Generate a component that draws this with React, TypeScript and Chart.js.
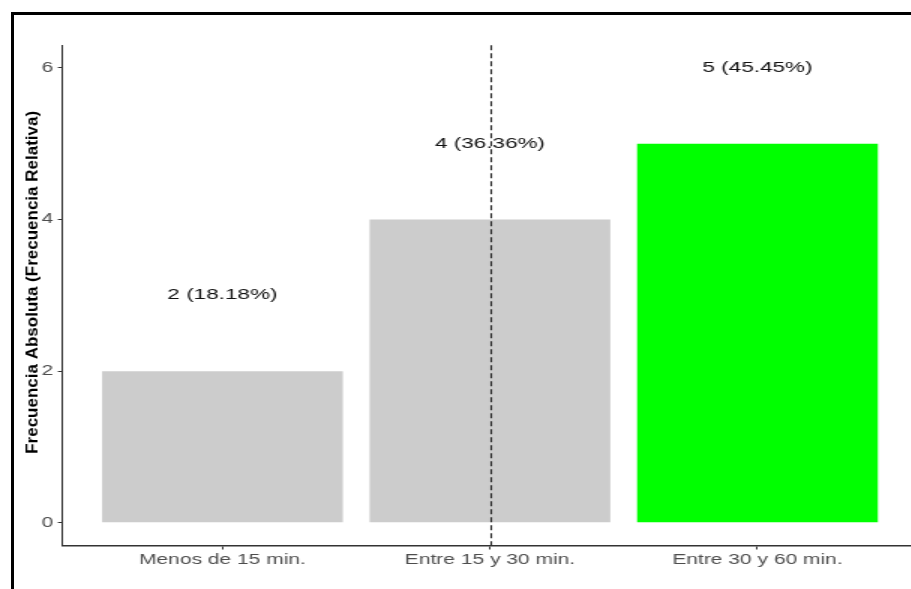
import React, { useEffect, useRef } from "react";
import { Chart, registerables } from "chart.js";

Chart.register(...registerables);

// ---- data ----
const categories = ["Menos de 15 min.", "Entre 15 y 30 min.", "Entre 30 y 60 min."];
const frequencies = [2, 4, 5];
const relativePercents = ["18.18%", "36.36%", "45.45%"];
const barColors = ["#cccccc", "#cccccc", "#00ff00"];
const yTicks = [0, 2, 4, 6];
const yAxisTitle = "Frecuencia Absoluta (Frecuencia Relativa)";
const dashedAtCategory = 2;

// ---- layout / style ----
const SX = 1.5; // the reference's horizontal texts are stretched horizontally
const FONT = "'Liberation Sans', Arial, Helvetica, sans-serif";

export default function App() {
  const canvasRef = useRef<HTMLCanvasElement | null>(null);

  useEffect(() => {
    const canvas = canvasRef.current;
    if (!canvas) return;

    const labelPlugin = {
      id: "barLabels",
      afterDatasetsDraw(chart: any) {
        const ctx = chart.ctx;
        const xs = chart.scales.x;
        const ys = chart.scales.y;
        const area = chart.chartArea;
        ctx.save();
        ctx.font = `15px ${FONT}`;
        ctx.fillStyle = "#111111";
        ctx.textAlign = "center";
        ctx.textBaseline = "middle";
        frequencies.forEach((v, i) => {
          ctx.fillText(
            `${v} (${relativePercents[i]})`,
            xs.getPixelForValue(i + 1),
            ys.getPixelForValue(v + 1)
          );
        });
        // dashed reference line
        const px = Math.round(xs.getPixelForValue(dashedAtCategory)) + 0.5;
        ctx.strokeStyle = "#2a2a2a";
        ctx.lineWidth = 1.1;
        ctx.setLineDash([5, 3]);
        ctx.beginPath();
        ctx.moveTo(px, area.top);
        ctx.lineTo(px, area.bottom);
        ctx.stroke();
        ctx.restore();

        // y-axis title, drawn without the horizontal stretch
        ctx.save();
        ctx.translate(22.3, (area.top + area.bottom) / 2 - 13);
        ctx.scale(1 / SX, 1);
        ctx.rotate(-Math.PI / 2);
        ctx.font = `bold 17px ${FONT}`;
        ctx.fillStyle = "#000000";
        ctx.textAlign = "center";
        ctx.textBaseline = "middle";
        ctx.fillText(yAxisTitle, 0, 0);
        ctx.restore();
      },
    };

    const chart = new Chart(canvas, {
      type: "bar",
      data: {
        datasets: [
          {
            data: frequencies.map((v, i) => ({ x: i + 1, y: v })),
            backgroundColor: barColors,
            borderWidth: 0,
            barPercentage: 0.9,
            categoryPercentage: 1,
          },
        ],
      },
      options: {
        animation: false,
        responsive: false,
        devicePixelRatio: 1,
        layout: { padding: { left: 13, top: 45.2, right: 0, bottom: 0 } },
        plugins: { legend: { display: false }, tooltip: { enabled: false } },
        scales: {
          x: {
            type: "linear",
            min: 0.4,
            max: 3.6,
            offset: false,
            afterBuildTicks: (a: any) => {
              a.ticks = categories.map((_, i) => ({ value: i + 1 }));
            },
            afterFit: (s: any) => {
              s.height = 43.5;
            },
            grid: {
              offset: false,
              drawOnChartArea: false,
              drawTicks: true,
              tickLength: 4,
              tickColor: "#333333",
              tickWidth: 1,
            },
            border: { display: true, color: "#333333", width: 1.5 },
            ticks: {
              callback: (v: any) => categories[Number(v) - 1],
              color: "#4d4d4d",
              font: { family: FONT, size: 14 },
              padding: 2,
              maxRotation: 0,
              autoSkip: false,
            },
          },
          y: {
            min: -0.3,
            max: 6.3,
            afterBuildTicks: (a: any) => {
              a.ticks = yTicks.map((v) => ({ value: v }));
            },
            afterFit: (s: any) => {
              s.width = 28.3;
            },
            grid: {
              drawOnChartArea: false,
              drawTicks: true,
              tickLength: 2.7,
              tickColor: "#333333",
              tickWidth: 1,
            },
            border: { display: true, color: "#333333", width: 1 },
            ticks: {
              color: "#4d4d4d",
              font: { family: FONT, size: 14 },
              padding: 3,
            },
          },
        },
      },
      plugins: [labelPlugin],
    });

    return () => chart.destroy();
  }, []);

  return (
    <div
      style={{
        position: "fixed",
        left: 0,
        top: 0,
        width: 911,
        height: 589,
        overflow: "hidden",
        background: "#ffffff",
      }}
    >
      <canvas
        ref={canvasRef}
        width={612}
        height={589}
        style={{
          position: "absolute",
          left: 0,
          top: 0,
          transform: `scaleX(${SX})`,
          transformOrigin: "0 0",
        }}
      />
      <div
        style={{
          position: "absolute",
          left: 11,
          top: 12,
          right: -10,
          bottom: -10,
          borderTop: "3px solid #000",
          borderLeft: "3px solid #000",
          pointerEvents: "none",
        }}
      />
    </div>
  );
}
